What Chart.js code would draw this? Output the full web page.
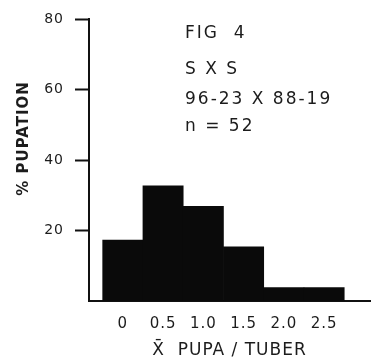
<!DOCTYPE html>
<html>
<head>
<meta charset="utf-8">
<script src="https://cdn.jsdelivr.net/npm/chart.js@4/dist/chart.umd.min.js"></script>
<style>
  html, body { margin: 0; padding: 0; background: #fff; }
  #wrap { width: 385px; height: 362px; }
</style>
</head>
<body>
<div id="wrap"><canvas id="c" width="385" height="362"></canvas></div>
<script>
// Mean pupae per tuber (bin centres) and % pupation per bin, n = 52
const bins = [0, 0.5, 1.0, 1.5, 2.0, 2.5];
const binLabels = ['0', '0.5', '1.0', '1.5', '2.0', '2.5'];
const pupation = [17.3, 32.7, 26.9, 15.4, 3.8, 3.8];
const yTicks = [20, 40, 60, 80];
const noteLines = ['FIG  4', 'S X S', '96-23 X 88-19', 'n = 52'];

const INK = '#111';
const TEXT = '#1c1c1c';
const FAMILY = '"DejaVu Sans", sans-serif';

// Lettering is drawn slightly spaced, like stencil lettering
const spacing = {
  id: 'spacing',
  beforeLayout(chart) { chart.ctx.letterSpacing = '1px'; },
  beforeDraw(chart) { chart.ctx.letterSpacing = '1px'; }
};

// Figure caption block in the upper right of the plot
const notes = {
  id: 'notes',
  afterDraw(chart) {
    const ctx = chart.ctx;
    const baselines = [38, 74, 104, 131];
    ctx.save();
    ctx.letterSpacing = '2px';
    ctx.fillStyle = TEXT;
    ctx.font = '17px ' + FAMILY;
    ctx.textAlign = 'left';
    ctx.textBaseline = 'alphabetic';
    noteLines.forEach((t, i) => ctx.fillText(t, 185, baselines[i]));
    ctx.restore();
  }
};

new Chart(document.getElementById('c'), {
  type: 'bar',
  data: {
    datasets: [{
      data: bins.map((b, i) => ({ x: b, y: pupation[i] })),
      backgroundColor: '#0a0a0a',
      borderWidth: 0,
      barPercentage: 1,
      categoryPercentage: 1
    }]
  },
  options: {
    responsive: false,
    animation: false,
    devicePixelRatio: 1,
    layout: { padding: { left: 0, right: 15, top: 16, bottom: 0 } },
    plugins: { legend: { display: false }, tooltip: { enabled: false } },
    scales: {
      x: {
        type: 'linear',
        offset: false,
        min: -0.42,
        max: 3.07,
        afterBuildTicks: s => { s.ticks = bins.map(v => ({ value: v })); },
        afterFit: s => { s.height = 61; },
        border: { display: true, color: INK, width: 2 },
        grid: { display: false, drawTicks: false },
        ticks: {
          autoSkip: false,
          maxRotation: 0,
          padding: 14,
          color: TEXT,
          font: { family: FAMILY, size: 15 },
          callback: (v, i) => binLabels[i]
        },
        title: {
          display: true,
          text: 'X\u0304  PUPA / TUBER',
          color: TEXT,
          font: { family: FAMILY, size: 17 },
          padding: { top: 0, bottom: 1 }
        }
      },
      y: {
        min: 0,
        max: 80,
        afterBuildTicks: s => { s.ticks = yTicks.map(v => ({ value: v })); },
        afterFit: s => { s.width = 89; },
        border: { display: true, color: INK, width: 2 },
        grid: { drawOnChartArea: false, drawTicks: true, tickLength: 14, tickWidth: 2, tickColor: INK },
        ticks: {
          padding: 11,
          color: TEXT,
          font: { family: FAMILY, size: 14 }
        },
        title: {
          display: true,
          text: '       % PUPATION',
          color: TEXT,
          font: { family: FAMILY, size: 15, weight: 'bold' },
          padding: { top: 15, bottom: 0 }
        }
      }
    }
  },
  plugins: [spacing, notes]
});
</script>
</body>
</html>
